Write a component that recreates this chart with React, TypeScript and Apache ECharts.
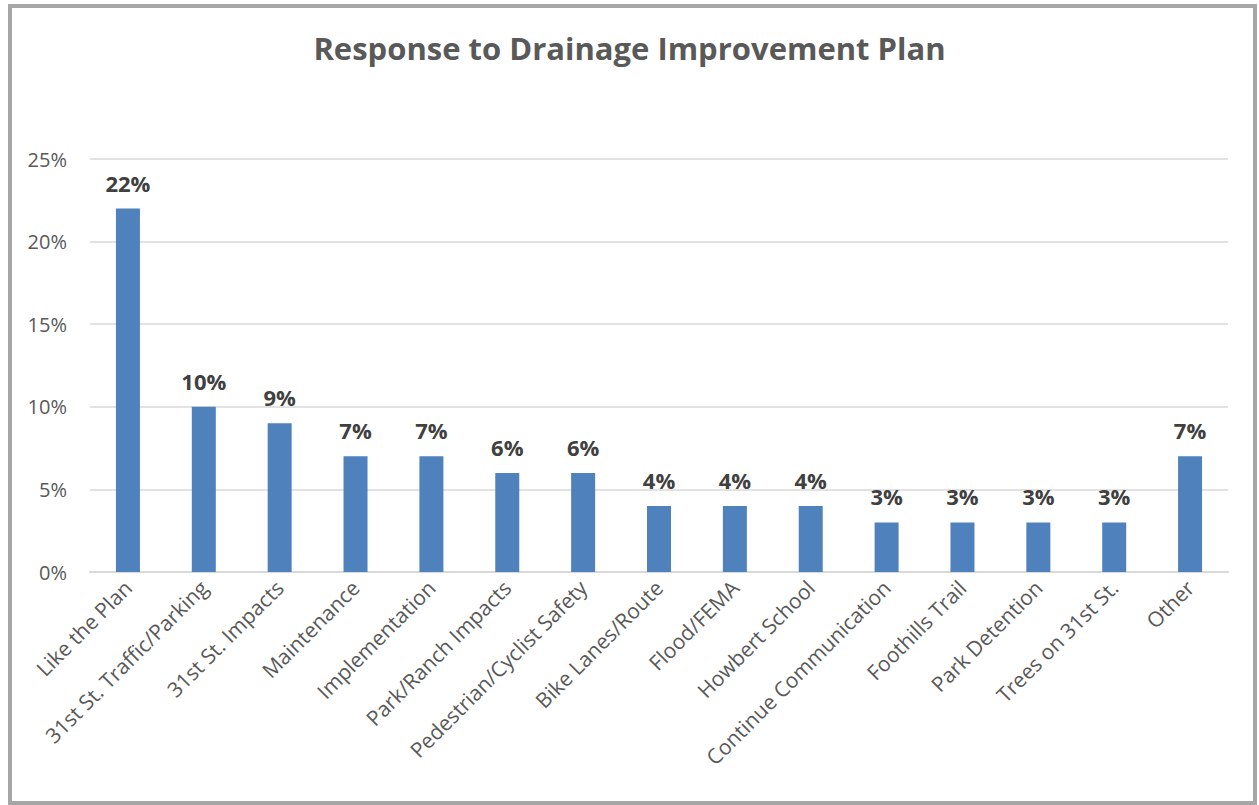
import React, { useEffect, useRef } from "react";
import * as echarts from "echarts";

const categories = [
  "Like the Plan",
  "31st St. Traffic/Parking",
  "31st St. Impacts",
  "Maintenance",
  "Implementation",
  "Park/Ranch Impacts",
  "Pedestrian/Cyclist Safety",
  "Bike Lanes/Route",
  "Flood/FEMA",
  "Howbert School",
  "Continue Communication",
  "Foothills Trail",
  "Park Detention",
  "Trees on 31st St.",
  "Other",
];
const values = [22, 10, 9, 7, 7, 6, 6, 4, 4, 4, 3, 3, 3, 3, 7];
const titleText = "Response to Drainage Improvement Plan";

export default function App() {
  const ref = useRef<HTMLDivElement>(null);
  useEffect(() => {
    if (!ref.current) return;
    const chart = echarts.init(ref.current, null, { renderer: "svg" });
    const font = "'Open Sans', 'Noto Sans', sans-serif";
    chart.setOption({
      animation: false,
      backgroundColor: "#ffffff",
      title: {
        text: titleText,
        left: "center",
        top: 27,
        textStyle: { color: "#595959", fontSize: 31, fontWeight: "bold", fontFamily: font },
      },
      graphic: [
        {
          type: "rect",
          shape: { x: 10, y: 6, width: 1245, height: 797 },
          style: { fill: "none", stroke: "#A6A6A6", lineWidth: 4 },
          silent: true,
        },
      ],
      grid: { left: 90, right: 31, top: 159, bottom: 233, containLabel: false },
      xAxis: {
        type: "category",
        data: categories,
        axisLine: { show: true, lineStyle: { color: "#D9D9D9", width: 2 } },
        axisTick: { show: false },
        axisLabel: {
          rotate: 45,
          interval: 0,
          color: "#595959",
          fontSize: 21,
          fontFamily: font,
          margin: 12,
        },
      },
      yAxis: {
        type: "value",
        min: 0,
        max: 25,
        interval: 5,
        axisLine: { show: false },
        axisTick: { show: false },
        splitLine: { lineStyle: { color: "#D9D9D9", width: 1.5 } },
        axisLabel: {
          formatter: "{value}%",
          color: "#595959",
          fontSize: 20,
          fontFamily: font,
          margin: 23,
        },
      },
      series: [
        {
          type: "bar",
          data: values,
          barWidth: 24,
          itemStyle: { color: "#4F81BD" },
          label: {
            show: true,
            position: "top",
            distance: 15,
            formatter: "{c}%",
            color: "#404040",
            fontSize: 22,
            fontWeight: "bold",
            fontFamily: font,
          },
        },
      ],
    });
    return () => chart.dispose();
  }, []);
  return (
    <div
      ref={ref}
      style={{ position: "fixed", left: 0, top: 0, width: 1259, height: 805 }}
    />
  );
}
